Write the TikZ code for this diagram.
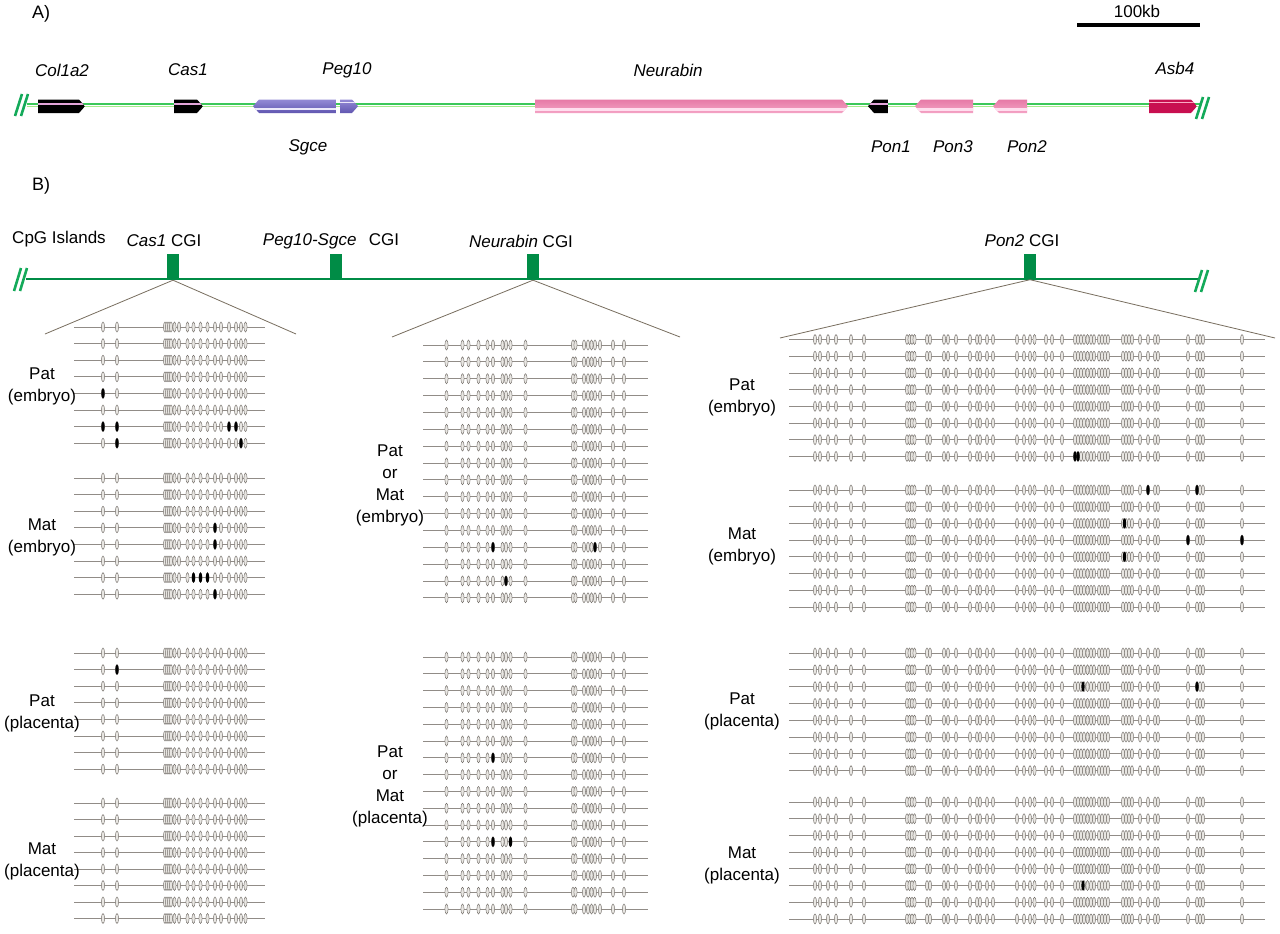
\documentclass[tikz,border=0pt]{standalone}
\usepackage{fontspec}
\setmainfont{Liberation Sans}
\definecolor{glineA}{RGB}{60,200,90}
\definecolor{glineB}{RGB}{165,235,140}
\definecolor{cgigreen}{RGB}{0,140,70}
\definecolor{brkgreen}{RGB}{20,170,90}
\definecolor{rowgray}{RGB}{145,140,135}
\definecolor{cpgedge}{RGB}{115,110,105}
\definecolor{cpgfill}{RGB}{232,230,226}
\definecolor{zoomgray}{RGB}{120,110,95}
\definecolor{pinkstripe}{RGB}{228,165,218}
\definecolor{purpT}{RGB}{150,140,215}
\definecolor{purpB}{RGB}{95,85,175}
\definecolor{purpS}{RGB}{236,232,250}
\definecolor{pinkT}{RGB}{230,120,165}
\definecolor{pinkB}{RGB}{245,165,198}
\definecolor{pinkS}{RGB}{255,222,238}
\definecolor{crim}{RGB}{200,15,80}
\definecolor{crimS}{RGB}{250,170,195}

% right-pointing gene: x1, x2, body options, stripe colour, stripe y1, stripe y2
\newcommand{\geneR}[6]{%
  \begin{scope}
    \clip (#1,99.5) -- ({#2-6},99.5) -- (#2,106.25) -- ({#2-6},113) -- (#1,113) -- cycle;
    \path[#3] (#1,99) rectangle (#2,113.5);
    \fill[#4] (#1,#5) rectangle (#2,#6);
  \end{scope}}
% left-pointing gene
\newcommand{\geneL}[6]{%
  \begin{scope}
    \clip (#1,106.25) -- ({#1+6},99.5) -- (#2,99.5) -- (#2,113) -- ({#1+6},113) -- cycle;
    \path[#3] (#1,99) rectangle (#2,113.5);
    \fill[#4] (#1,#5) rectangle (#2,#6);
  \end{scope}}
% block of methylation rows: y0, dy, n, xstart, xend, macro holding CpG positions
\newcommand{\lolblock}[6]{%
  \foreach \r in {1,...,#3}{%
    \pgfmathsetmacro\yy{#1+(\r-1)*#2}
    \draw[rowline] (#4,\yy) -- (#5,\yy);
    \foreach \xx in #6 {\draw[cpg] (\xx,\yy) ellipse[x radius=1.6, y radius=5];}
  }}
\newcommand{\meth}[2]{\fill[black] (#1,#2) ellipse[x radius=1.7, y radius=5.2];}

\def\Lx{103,117,165,167,169,171,174.5,179,187.5,193.5,200.5,207.5,215,221,229,236,241,245.5}
\def\Mx{446.5,462.5,468.5,478.5,487.5,493,502.5,506,510.5,525.5,573,575.5,584,588,591.5,595,600,613,624}
\def\Rx{815,820,828,836,851,864,907,909.5,912,914.5,927,930,944,948,956,970,977,980,987,993,1017,1024,1030,1034.5,1046,1052,1062,1075,1078,1081,1084,1087.5,1091,1094,1099,1102,1105,1108,1123,1126,1129,1132,1140,1148,1155,1158,1188,1197,1200,1203,1242}

\begin{document}
\begin{tikzpicture}[x=1pt,y=-1pt,
  lbl/.style={font=\fontsize{17}{22}\selectfont, inner sep=0pt, align=center},
  glbl/.style={font=\fontsize{17}{22}\selectfont\itshape, inner sep=0pt},
  rowline/.style={draw=rowgray, line width=0.8pt},
  cpg/.style={draw=cpgedge, fill=cpgfill, line width=0.45pt},
  brk/.style={draw=brkgreen, line width=2.6pt},
  cgibox/.style={fill=cgigreen, minimum width=12.5pt, minimum height=26pt, inner sep=0pt},
  zoomline/.style={draw=zoomgray, line width=0.8pt}]
\useasboundingbox (0,0) rectangle (1280,934);
\fill[white] (0,0) rectangle (1280,934);

% ---------------- Panel A ----------------
\node[lbl, font=\fontsize{18}{22}\selectfont] (labA) at (41,14) {A)};
\node[lbl] (scaleT) at (1137,11) {100kb};
\coordinate (sbL) at (1077,25.5);
\coordinate (sbR) at (1200,25.5);
\draw[line width=4pt] (sbL) -- (sbR);

\coordinate (glL) at (27,104);
\coordinate (glR) at (1200,104);
\coordinate (glL2) at (27,106.6);
\coordinate (glR2) at (1200,106.6);
\draw[glineA, line width=1.1pt] (glL) -- (glR);
\draw[glineB, line width=1.1pt] (glL2) -- (glR2);

\draw[brk] (15,116) -- (22,94);
\draw[brk] (21,116) -- (28,94);
\draw[brk] (1196,119) -- (1203,97);
\draw[brk] (1202,119) -- (1209,97);

\geneR{38}{85}{fill=black}{pinkstripe}{103.3}{104.8}
\geneR{174}{203}{fill=black}{pinkstripe}{103.3}{104.8}
\geneL{253}{336}{top color=purpT,bottom color=purpB}{purpS}{107.5}{109.5}
\geneR{340}{358}{top color=purpT,bottom color=purpB}{purpS}{101.5}{103}
\geneR{535}{848}{top color=pinkT,bottom color=pinkB}{pinkS}{108}{110.5}
\geneL{868}{888}{fill=black}{pinkstripe}{103.3}{104.8}
\geneL{915}{973}{top color=pinkT,bottom color=pinkB}{pinkS}{108}{110.5}
\geneL{993}{1027}{top color=pinkT,bottom color=pinkB}{pinkS}{108}{110.5}
\geneR{1149}{1197}{fill=crim}{crimS}{101.8}{103.3}

\node[glbl] (gCol) at (62,70) {Col1a2};
\node[glbl] (gCas) at (188,70) {Cas1};
\node[glbl] (gPeg) at (347,70) {Peg10};
\node[glbl] (gNeu) at (668,70) {Neurabin};
\node[glbl] (gAsb) at (1175,68) {Asb4};
\node[glbl] (gSgc) at (308,147) {Sgce};
\node[glbl] (gPo1) at (891,147) {Pon1};
\node[glbl] (gPo3) at (953,147) {Pon3};
\node[glbl] (gPo2) at (1027,147) {Pon2};

% ---------------- Panel B ----------------
\node[lbl, font=\fontsize{18}{22}\selectfont] (labB) at (41,186) {B)};
\node[lbl] (cpgT) at (59,239) {CpG Islands};
\node[lbl] (tCas) at (164,241) {\textit{Cas1} CGI};
\node[lbl] (tPeg) at (331,241) {\textit{Peg10-Sgce}\hspace{0.45em} CGI};
\node[lbl] (tNeu) at (521,241) {\textit{Neurabin} CGI};
\node[lbl] (tPon) at (1022,241) {\textit{Pon2} CGI};

\coordinate (cgL) at (26,279);
\coordinate (cgR) at (1200,279);
\draw[cgigreen, line width=2pt] (cgL) -- (cgR);
\draw[brk] (14,291) -- (21,268);
\draw[brk] (20,291) -- (27,268);
\draw[brk] (1195,292) -- (1202,270);
\draw[brk] (1201,292) -- (1208,270);

\node[cgibox] (bCas) at (173,267) {};
\node[cgibox] (bPeg) at (336,266.5) {};
\node[cgibox] (bNeu) at (533,267) {};
\node[cgibox] (bPon) at (1030,266.5) {};

\coordinate (zCasL) at (45,334);
\coordinate (zCasR) at (296,334);
\coordinate (zNeuL) at (392,337);
\coordinate (zNeuR) at (680,337);
\coordinate (zPonL) at (780,338);
\coordinate (zPonR) at (1275,338);
\draw[zoomline] (bCas.south) -- (zCasL);
\draw[zoomline] (bCas.south) -- (zCasR);
\draw[zoomline] (bNeu.south) -- (zNeuL);
\draw[zoomline] (bNeu.south) -- (zNeuR);
\draw[zoomline] (bPon.south) -- (zPonL);
\draw[zoomline] (bPon.south) -- (zPonR);

% ---- Cas1 block ----
\lolblock{327}{16.6}{8}{74}{265}{\Lx}
\lolblock{478}{16.6}{8}{74}{265}{\Lx}
\lolblock{653}{16.6}{8}{74}{265}{\Lx}
\lolblock{803}{16.5}{8}{74}{265}{\Lx}
\meth{103}{393.4}
\meth{103}{426.6}\meth{117}{426.6}\meth{229}{426.6}\meth{236}{426.6}
\meth{117}{443.2}\meth{241}{443.2}
\meth{215}{527.8}
\meth{215}{544.4}
\meth{193.5}{577.6}\meth{200.5}{577.6}\meth{207.5}{577.6}
\meth{215}{594.2}
\meth{117}{669.6}

\node[lbl] (lPE) at (42,386) {Pat\\(embryo)};
\node[lbl] (lME) at (42,537) {Mat\\(embryo)};
\node[lbl] (lPP) at (42,713) {Pat\\(placenta)};
\node[lbl] (lMP) at (42,861) {Mat\\(placenta)};

% ---- Neurabin block ----
\lolblock{345}{16.85}{16}{423}{648}{\Mx}
\lolblock{657}{16.8}{16}{423}{648}{\Mx}
\meth{493}{547.2}\meth{595}{547.2}
\meth{506}{580.9}
\meth{493}{757.8}
\meth{493}{841.8}\meth{510.5}{841.8}

\node[lbl] (mE) at (390,485) {Pat\\or\\Mat\\(embryo)};
\node[lbl] (mP) at (390,786) {Pat\\or\\Mat\\(placenta)};

% ---- Pon2 block ----
\lolblock{339.5}{16.7}{8}{789}{1265}{\Rx}
\lolblock{490}{16.7}{8}{789}{1265}{\Rx}
\lolblock{653}{16.8}{8}{789}{1265}{\Rx}
\lolblock{802}{16.7}{8}{789}{1265}{\Rx}
\meth{1075}{456.4}\meth{1078}{456.4}
\meth{1148}{490}\meth{1197}{490}
\meth{1124.5}{523.4}
\meth{1188}{540.1}\meth{1242}{540.1}
\meth{1124.5}{556.8}
\meth{1083}{686.6}\meth{1197}{686.6}
\meth{1083}{885.5}

\node[lbl] (rPE) at (742,397) {Pat\\(embryo)};
\node[lbl] (rME) at (742,546) {Mat\\(embryo)};
\node[lbl] (rPP) at (742,711) {Pat\\(placenta)};
\node[lbl] (rMP) at (742,865) {Mat\\(placenta)};
\end{tikzpicture}
\end{document}
